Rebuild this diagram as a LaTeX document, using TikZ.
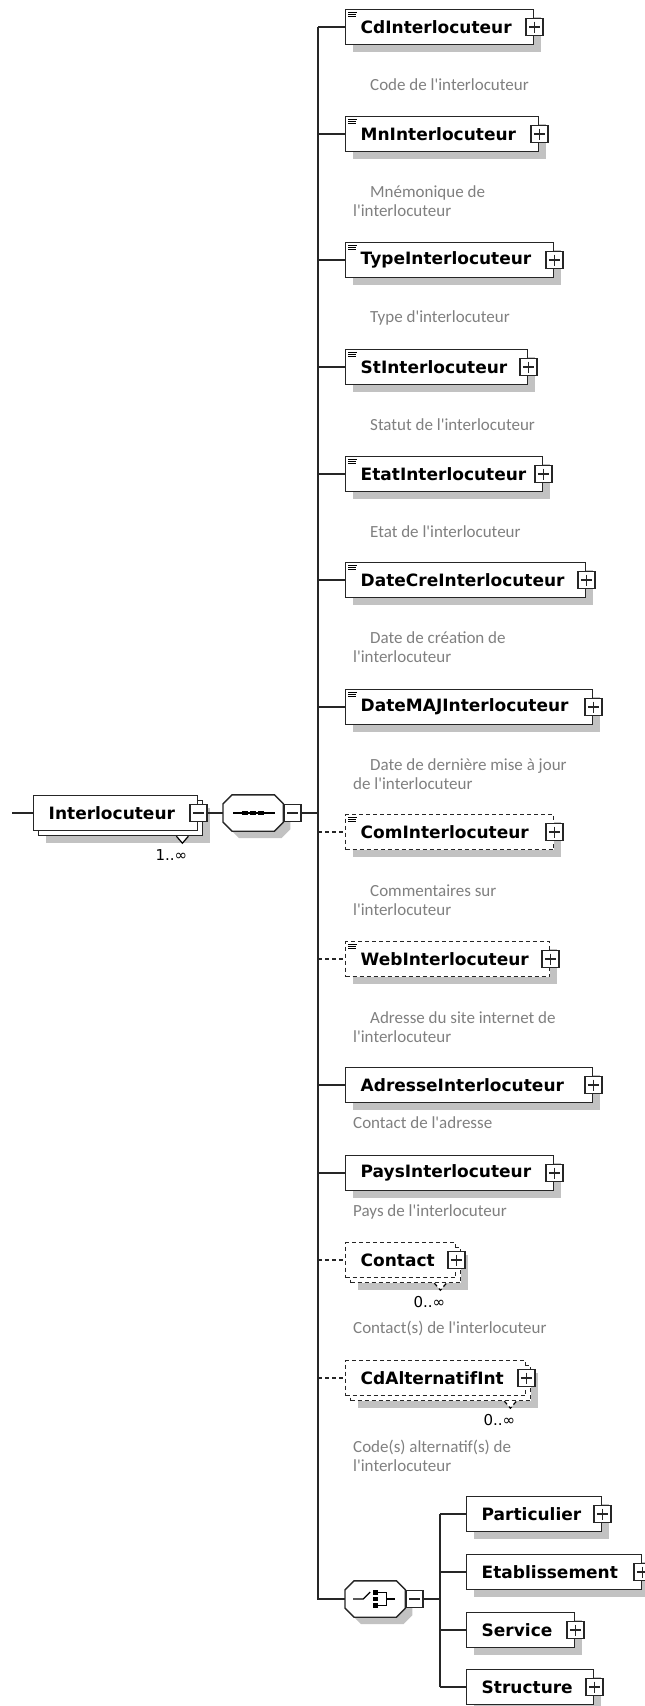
\documentclass[tikz,border=0pt]{standalone}
\usepackage{fontspec}
\newfontfamily\eltfont{DejaVu Sans}
\newfontfamily\docfont{Carlito}
\usetikzlibrary{shadows}
\definecolor{docgray}{RGB}{128,128,128}
\definecolor{shadegray}{RGB}{194,194,194}
\tikzstyle{conn}=[line width=1.4pt, draw=black!85]
\tikzstyle{optional}=[dash pattern=on 4pt off 3pt]
\tikzstyle{elt}=[rectangle, draw=black!85, fill=white, line width=1.4pt, minimum height=35pt, inner sep=0pt, anchor=west, align=left, font=\eltfont\bfseries\fontsize{17}{20}\selectfont]
\tikzstyle{boxshadow}=[drop shadow={shadow xshift=7pt, shadow yshift=-7pt, fill=shadegray, opacity=1}]
\tikzstyle{comp}=[rectangle, minimum width=60pt, minimum height=36pt, inner sep=0pt, anchor=west]
\tikzstyle{pbox}=[rectangle, draw=black!85, fill=white, line width=1.2pt, minimum size=17pt, inner sep=0pt, path picture={\draw[line width=1.2pt] ([xshift=3pt]path picture bounding box.west) -- ([xshift=-3pt]path picture bounding box.east); \draw[line width=1.2pt] ([yshift=-3pt]path picture bounding box.north) -- ([yshift=3pt]path picture bounding box.south);}]
\tikzstyle{mbox}=[rectangle, draw=black!85, fill=white, line width=1.2pt, minimum size=17pt, inner sep=0pt, path picture={\draw[line width=1.2pt] ([xshift=3pt]path picture bounding box.west) -- ([xshift=-3pt]path picture bounding box.east);}]
\tikzstyle{annot}=[anchor=west, align=left, inner sep=0pt, text=docgray, font=\docfont\fontsize{17}{19}\selectfont]
\tikzstyle{mult}=[inner sep=0pt, font=\eltfont\fontsize{15}{17}\selectfont]
\newcommand{\docmark}[1]
{
  \draw[line width=0.7pt] ([shift={(3pt,-3.5pt)}]#1.north west) -- ++(9pt,0pt)
    ([shift={(3pt,-5.7pt)}]#1.north west) -- ++(8pt,0pt)
    ([shift={(3pt,-7.9pt)}]#1.north west) -- ++(8pt,0pt);
}
\newcommand{\octagon}[1]
{
  \filldraw[line width=1.4pt, draw=black!85, fill=white, boxshadow] ([xshift=9pt]#1.north west) -- ([xshift=-9pt]#1.north east)
    -- ([yshift=-9pt]#1.north east) -- ([yshift=9pt]#1.south east) -- ([xshift=-9pt]#1.south east)
    -- ([xshift=9pt]#1.south west) -- ([yshift=9pt]#1.south west) -- ([yshift=-9pt]#1.north west) -- cycle;
}
\newcommand{\elemnode}[6][]
{
  \node[elt, boxshadow, #1, text width=#5pt] (#3) at (#4) {\hspace*{15pt}#6};
  \node[pbox] (#3-x) at (#3.east) {};
  \draw[conn, #1] (#2 |- #3.west) -- (#3.west);
}
\newcommand{\stacked}[5][]
{
  \node[elt, boxshadow, #1, text width=#4pt] (#2-b) at (350,#3+5) {};
  \draw[#1, line width=1.2pt, fill=white] ([xshift=-27pt]#2-b.south east) -- ++(6pt,-7pt) -- ++(6pt,7pt);
  \node[elt, #1, text width=#4pt] (#2) at (345,#3) {\hspace*{15pt}#5};
  \node[pbox] (#2-x) at (#2.east) {};
  \node[mult] (#2-m) at ([xshift=-32pt, yshift=-19pt]#2-b.south east) {0..∞};
  \draw[conn, #1] (trunk |- #2.west) -- (#2.west);
}

\begin{document}
\begin{tikzpicture}[x=1pt, y=-1pt]
	\useasboundingbox[fill=white] (0,0) rectangle (645,1706);
	\coordinate (start) at (12,813);
	\coordinate (trunk) at (318,813);
	\coordinate (fork) at (440,1599);

	% root element, 1..oo
	\node[elt, boxshadow, text width=164pt] (interloc-b) at (38,818) {};
	\draw[line width=1.2pt, fill=white] ([xshift=-27pt]interloc-b.south east) -- ++(6pt,-7pt) -- ++(6pt,7pt);
	\node[elt, text width=164pt] (interloc) at (33,813) {\hspace*{15pt}Interlocuteur};
	\node[mbox] (interloc-x) at (interloc.east) {};
	\node[mult] (interloc-m) at ([xshift=-32pt, yshift=-19pt]interloc-b.south east) {1..∞};

	% sequence
	\node[comp] (seq) at (223,813) {};
	\octagon{seq}
	\node[mbox, anchor=west] (seq-x) at (seq.east) {};
	\draw[line width=1.2pt] ([xshift=-20pt]seq.center) -- ([xshift=22pt]seq.center);
	\foreach \dx in {-8,0,8} {\fill ([xshift=\dx pt]seq.center) +(-3pt,-2pt) rectangle +(3pt,2pt);}
	\draw[conn] (start) -- (interloc.west);
	\draw[conn] (interloc-x.east) -- (seq.west);
	\draw[conn] (seq-x.east) -- (trunk);

	\elemnode{trunk}{cd}{345,27}{188}{CdInterlocuteur}
	\elemnode{trunk}{mn}{345,134}{193}{MnInterlocuteur}
	\elemnode{trunk}{type}{345,260}{208}{TypeInterlocuteur}
	\elemnode{trunk}{st}{345,367}{182}{StInterlocuteur}
	\elemnode{trunk}{etat}{345,474}{197}{EtatInterlocuteur}
	\elemnode{trunk}{datecre}{345,580}{240}{DateCreInterlocuteur}
	\elemnode{trunk}{datemaj}{345,707}{247}{DateMAJInterlocuteur}
	\elemnode[optional]{trunk}{com}{345,832}{208}{ComInterlocuteur}
	\elemnode[optional]{trunk}{web}{345,959}{204}{WebInterlocuteur}
	\elemnode{trunk}{adresse}{345,1085}{247}{AdresseInterlocuteur}
	\elemnode{trunk}{pays}{345,1173}{208}{PaysInterlocuteur}
	\stacked[optional]{contact}{1260}{110}{Contact}
	\stacked[optional]{cdalt}{1378}{180}{CdAlternatifInt}
	\foreach \n in {cd,mn,type,st,etat,datecre,datemaj,com,web} {\docmark{\n}}

	\node[annot] (cd-doc) at (353,85) {\hspace*{17pt}Code de l'interlocuteur};
	\node[annot] (mn-doc) at (353,201) {\hspace*{17pt}Mnémonique de\\l'interlocuteur};
	\node[annot] (type-doc) at (353,318) {\hspace*{17pt}Type d'interlocuteur};
	\node[annot] (st-doc) at (353,425) {\hspace*{17pt}Statut de l'interlocuteur};
	\node[annot] (etat-doc) at (353,532) {\hspace*{17pt}Etat de l'interlocuteur};
	\node[annot] (datecre-doc) at (353,647) {\hspace*{17pt}Date de création de\\l'interlocuteur};
	\node[annot] (datemaj-doc) at (353,774) {\hspace*{17pt}Date de dernière mise à jour\\de l'interlocuteur};
	\node[annot] (com-doc) at (353,900) {\hspace*{17pt}Commentaires sur\\l'interlocuteur};
	\node[annot] (web-doc) at (353,1027) {\hspace*{17pt}Adresse du site internet de\\l'interlocuteur};
	\node[annot] (adresse-doc) at (353,1123) {Contact de l'adresse};
	\node[annot] (pays-doc) at (353,1212) {Pays de l'interlocuteur};
	\node[annot] (contact-doc) at (353,1328) {Contact(s) de l'interlocuteur};
	\node[annot] (cdalt-doc) at (353,1456) {Code(s) alternatif(s) de\\l'interlocuteur};

	% choice
	\node[comp] (choice) at (345,1599) {};
	\octagon{choice}
	\node[mbox, anchor=west] (choice-x) at (choice.east) {};
	\begin{scope}[shift={(choice.center)}]
		\draw[line width=1.2pt] (-22,0) -- (-12,0) -- (-5,-7);
		\foreach \dy in {-6.5,0,6.5} {\fill (-2.5,\dy-2.2) rectangle (2.5,\dy+2.2);}
		\draw[line width=1.2pt] (2,-6.5) -- (11,-6.5) -- (11,6.5) -- (2,6.5) (11,0) -- (20,0);
	\end{scope}
	\draw[conn] (trunk |- cd.west) -- (trunk |- choice.west) -- (choice.west);
	\draw[conn] (choice-x.east) -- (fork);

	\elemnode{fork}{particulier}{466,1514}{135}{Particulier}
	\elemnode{fork}{etab}{466,1572}{175}{Etablissement}
	\elemnode{fork}{service}{466,1630}{108}{Service}
	\elemnode{fork}{structure}{466,1687}{127}{Structure}
	\draw[conn] (fork |- particulier.west) -- (fork |- structure.west);
\end{tikzpicture}
\end{document}
